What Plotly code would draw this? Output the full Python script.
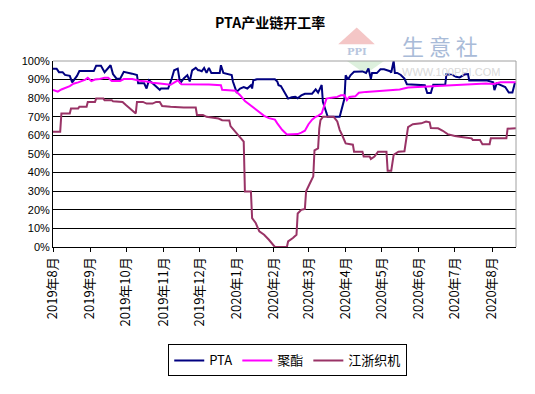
import plotly.graph_objects as go

# ---------------- data ----------------
pta_dates = ["2019-08-01","2019-08-04","2019-08-06","2019-08-09","2019-08-11","2019-08-15","2019-08-17","2019-08-19",
             "2019-08-21","2019-08-23","2019-09-04","2019-09-06","2019-09-10","2019-09-13","2019-09-18","2019-09-20",
             "2019-09-23","2019-09-26","2019-09-29","2019-10-06","2019-10-10","2019-10-11","2019-10-16","2019-10-18",
             "2019-10-20","2019-10-23","2019-10-26","2019-10-29","2019-10-30","2019-11-05","2019-11-08","2019-11-10",
             "2019-11-13","2019-11-15","2019-11-18","2019-11-21","2019-11-23","2019-11-25","2019-11-28","2019-11-30",
             "2019-12-01","2019-12-03","2019-12-05","2019-12-07","2019-12-09","2019-12-11","2019-12-18","2019-12-19",
             "2019-12-21","2019-12-28","2019-12-29","2020-01-01","2020-01-04","2020-01-07","2020-01-10","2020-01-13",
             "2020-01-14","2020-01-15","2020-01-18","2020-02-02","2020-02-04","2020-02-05","2020-02-07","2020-02-10",
             "2020-02-13","2020-02-16","2020-02-19","2020-02-21","2020-02-24","2020-02-27","2020-03-04","2020-03-07",
             "2020-03-09","2020-03-12","2020-03-13","2020-03-17","2020-03-27","2020-03-31","2020-04-01","2020-04-03",
             "2020-04-05","2020-04-08","2020-04-15","2020-04-18","2020-04-20","2020-04-22","2020-04-23","2020-04-27",
             "2020-04-30","2020-05-03","2020-05-08","2020-05-09","2020-05-11","2020-05-12","2020-05-14","2020-05-17",
             "2020-05-20","2020-05-22","2020-06-06","2020-06-08","2020-06-11","2020-06-13","2020-06-23","2020-06-24",
             "2020-06-29","2020-07-02","2020-07-05","2020-07-09","2020-07-12","2020-07-13","2020-07-28","2020-08-02",
             "2020-08-03","2020-08-05","2020-08-08","2020-08-12","2020-08-15","2020-08-18","2020-08-20","2020-08-21"]
pta_values = [95.9,95.9,94.0,94.0,92.5,92.0,88.5,90.0,
              92.0,94.6,94.6,97.5,97.5,94.0,97.7,93.0,
              90.5,90.5,94.2,93.2,92.5,88.0,88.0,85.2,
              89.6,88.0,86.5,84.5,85.2,85.2,90.6,95.0,
              95.9,88.0,90.6,92.4,89.0,95.0,96.3,95.0,
              95.0,94.5,96.3,93.6,96.3,93.6,93.6,97.7,
              93.6,92.5,89.0,83.4,85.2,86.0,85.2,87.0,
              85.2,89.6,90.2,90.2,89.0,87.0,86.5,83.4,
              79.8,80.5,80.7,80.0,81.5,82.4,82.4,84.7,
              83.0,87.1,78.0,70.0,70.0,79.8,92.3,90.0,
              92.3,94.2,94.4,93.6,96.0,90.5,93.5,93.5,
              95.5,95.5,94.5,93.8,100.0,93.6,93.6,92.5,
              90.5,87.5,87.0,82.8,82.8,87.2,87.2,92.9,
              92.5,91.5,91.2,92.7,93.0,89.5,89.5,88.5,
              84.3,88.0,87.0,86.0,83.0,83.0,88.0,88.0]

pet_dates = ["2019-08-01","2019-08-05","2019-08-08","2019-08-12","2019-08-15","2019-08-18","2019-08-22","2019-08-28",
             "2019-08-30","2019-09-02","2019-09-05","2019-09-09","2019-09-13","2019-09-16","2019-09-19","2019-09-26",
             "2019-09-29","2019-10-06","2019-10-12","2019-10-18","2019-10-23","2019-10-29","2019-11-04","2019-11-07",
             "2019-11-11","2019-11-13","2019-11-16","2019-11-28","2019-12-09","2019-12-19","2019-12-20","2019-12-31",
             "2020-01-04","2020-01-08","2020-01-14","2020-01-20","2020-01-24","2020-01-28","2020-02-02","2020-02-04",
             "2020-02-08","2020-02-12","2020-02-21","2020-02-24","2020-02-27","2020-03-01","2020-03-04","2020-03-07",
             "2020-03-09","2020-03-12","2020-03-13","2020-03-16","2020-03-20","2020-03-25","2020-03-28","2020-03-31",
             "2020-04-02","2020-04-04","2020-04-09","2020-04-12","2020-04-18","2020-04-29","2020-05-08","2020-05-16",
             "2020-05-23","2020-06-02","2020-06-10","2020-06-18","2020-06-26","2020-07-05","2020-07-14","2020-07-22",
             "2020-07-27","2020-08-02","2020-08-08","2020-08-21"]
pet_values = [84.5,83.5,84.7,85.5,86.5,87.8,88.5,90.0,
              91.0,89.2,90.0,90.3,91.0,91.0,89.3,89.3,
              90.3,90.3,89.4,89.0,88.3,87.9,87.5,87.2,
              88.8,89.6,87.5,87.5,87.3,87.0,84.5,84.0,
              81.6,78.5,75.5,73.0,70.5,69.3,68.5,66.5,
              63.0,60.5,60.7,61.5,62.5,66.0,68.5,70.0,
              70.5,71.8,74.0,79.8,80.3,80.7,81.6,81.6,
              79.0,80.7,81.0,82.9,83.4,84.0,84.2,84.7,
              85.7,86.0,86.5,86.5,87.0,87.0,87.4,87.6,
              87.9,87.7,88.6,88.6]

weave_dates = ["2019-08-01","2019-08-07","2019-08-08","2019-08-15","2019-08-16","2019-08-22","2019-08-23","2019-08-29",
               "2019-08-30","2019-09-05","2019-09-06","2019-09-12","2019-09-13","2019-09-19","2019-09-20","2019-09-28",
               "2019-10-01","2019-10-08","2019-10-09","2019-10-10","2019-10-15","2019-10-18","2019-10-23","2019-10-26",
               "2019-10-29","2019-10-31","2019-11-04","2019-11-07","2019-11-18","2019-11-28","2019-11-29","2019-12-04",
               "2019-12-07","2019-12-17","2019-12-20","2019-12-26","2019-12-27","2019-12-31","2020-01-04","2020-01-07",
               "2020-01-08","2020-01-13","2020-01-14","2020-01-17","2020-01-20","2020-01-24","2020-01-28","2020-02-02",
               "2020-02-12","2020-02-13","2020-02-17","2020-02-20","2020-02-21","2020-02-24","2020-02-27","2020-02-28",
               "2020-03-02","2020-03-05","2020-03-06","2020-03-09","2020-03-10","2020-03-11","2020-03-13","2020-03-22",
               "2020-03-25","2020-03-27","2020-03-29","2020-04-01","2020-04-07","2020-04-08","2020-04-15","2020-04-16",
               "2020-04-21","2020-04-22","2020-04-25","2020-04-28","2020-05-05","2020-05-06","2020-05-09","2020-05-11",
               "2020-05-15","2020-05-20","2020-05-23","2020-05-27","2020-06-03","2020-06-07","2020-06-10","2020-06-11",
               "2020-06-17","2020-06-21","2020-06-25","2020-07-01","2020-07-08","2020-07-15","2020-07-16","2020-07-22",
               "2020-07-24","2020-07-30","2020-07-31","2020-08-13","2020-08-14","2020-08-21"]
weave_values = [62.0,62.0,71.8,71.8,74.5,74.5,75.4,75.4,
                78.0,78.0,79.8,79.8,78.9,78.9,78.4,78.0,
                76.2,72.7,71.8,78.0,78.0,77.1,77.1,78.0,
                78.0,75.8,75.8,75.4,75.0,75.0,71.0,71.0,
                70.0,69.1,68.2,68.0,65.0,62.0,59.3,56.6,
                29.8,29.8,15.5,12.9,8.4,6.6,3.9,0.0,
                0.0,3.0,4.8,6.6,18.0,20.0,20.5,30.0,
                34.0,38.0,52.0,53.0,63.8,68.2,70.0,70.0,
                67.5,63.0,60.2,55.7,55.0,51.2,51.2,48.6,
                48.6,47.3,48.6,51.2,51.2,41.0,41.0,49.5,
                51.2,51.5,64.5,66.0,66.5,67.5,67.0,64.0,
                63.8,62.5,60.7,59.7,59.0,58.4,57.5,57.5,
                55.3,55.3,58.5,58.5,63.6,63.8]

month_ticks = ["2019-08-01","2019-09-01","2019-10-01","2019-11-01","2019-12-01","2020-01-01","2020-02-01",
               "2020-03-01","2020-04-01","2020-05-01","2020-06-01","2020-07-01","2020-08-01"]
month_labels = ["2019年8月","2019年9月","2019年10月","2019年11月","2019年12月","2020年1月","2020年2月",
                "2020年3月","2020年4月","2020年5月","2020年6月","2020年7月","2020年8月"]
y_ticks = [0, 10, 20, 30, 40, 50, 60, 70, 80, 90, 100]
y_labels = ["0%", "10%", "20%", "30%", "40%", "50%", "60%", "70%", "80%", "90%", "100%"]

series_names = ["PTA", "聚酯", "江浙织机"]
series_colors = ["#000080", "#FF00FF", "#993366"]

# ---------------- figure ----------------
fig = go.Figure()
for name, xs, ys, col in zip(series_names,
                             [pta_dates, pet_dates, weave_dates],
                             [pta_values, pet_values, weave_values],
                             series_colors):
    fig.add_trace(go.Scatter(x=xs, y=ys, mode="lines", name=name,
                             line=dict(color=col, width=2)))

cjk = "Noto Sans CJK SC, sans-serif"

# watermark (behind the plot)
fig.add_shape(type="path", xref="paper", yref="paper", layer="below",
              path="M 0.616 1.09 L 0.695 1.09 L 0.656 1.18 Z",
              fillcolor="#F4C6C6", line=dict(width=0))
fig.add_shape(type="path", xref="paper", yref="paper", layer="below",
              path="M 0.635 1.0 L 0.715 1.0 L 0.675 0.93 Z",
              fillcolor="#DDF0DD", line=dict(width=0))
fig.add_annotation(text="<b>PPI</b>", xref="paper", yref="paper", x=0.657, y=1.05,
                   xanchor="center", yanchor="middle", showarrow=False,
                   font=dict(family="DejaVu Serif", size=10, color="#B8C6DE"))
fig.add_annotation(text="生 意 社", xref="paper", yref="paper", x=0.836, y=1.088,
                   xanchor="center", yanchor="middle", showarrow=False,
                   font=dict(family=cjk, size=22, color="#A9BBD8"))
fig.add_annotation(text="WWW.100PPI.COM", xref="paper", yref="paper", x=0.86, y=0.94,
                   xanchor="center", yanchor="middle", showarrow=False,
                   font=dict(family="Liberation Sans", size=11, color="#D9D9D9"))

# title
fig.add_annotation(text="<b>PTA产业链开工率</b>", xref="paper", yref="paper", x=0.468, y=1.207,
                   xanchor="center", yanchor="middle", showarrow=False,
                   font=dict(family=cjk, size=14, color="black"))

# gray top/right border
fig.add_shape(type="line", xref="paper", yref="paper", x0=0, x1=1, y0=1, y1=1,
              line=dict(color="#A0A0A0", width=1), layer="above")
fig.add_shape(type="line", xref="paper", yref="paper", x0=1, x1=1, y0=0, y1=1,
              line=dict(color="#A0A0A0", width=1), layer="above")

# page body has an 8px default margin, so the figure is sized/margined to compensate
fig.update_layout(
    width=527, height=386,
    margin=dict(l=45, r=19, t=53, b=147, autoexpand=False),
    paper_bgcolor="white", plot_bgcolor="white",
    showlegend=True,
    legend=dict(orientation="h", x=0.507, xanchor="center", y=-0.61, yanchor="middle",
                bordercolor="black", borderwidth=1, bgcolor="white",
                font=dict(family=cjk, size=13, color="black"),
                itemwidth=30, tracegroupgap=0),
    xaxis=dict(type="date", range=["2019-08-01", "2020-08-21"], automargin=False,
               tickvals=month_ticks, ticktext=month_labels, tickangle=-90,
               ticks="outside", ticklen=4, tickcolor="black",
               showline=True, linecolor="black", linewidth=1,
               showgrid=False, zeroline=False,
               tickfont=dict(family=cjk, size=13, color="black")),
    yaxis=dict(range=[0, 100], tickvals=y_ticks, ticktext=y_labels, automargin=False,
               showgrid=True, gridcolor="black", gridwidth=1,
               showline=True, linecolor="black", linewidth=1,
               zeroline=False, ticks="",
               tickfont=dict(family="Liberation Sans", size=11, color="black")),
)

fig.write_html("out.html")
